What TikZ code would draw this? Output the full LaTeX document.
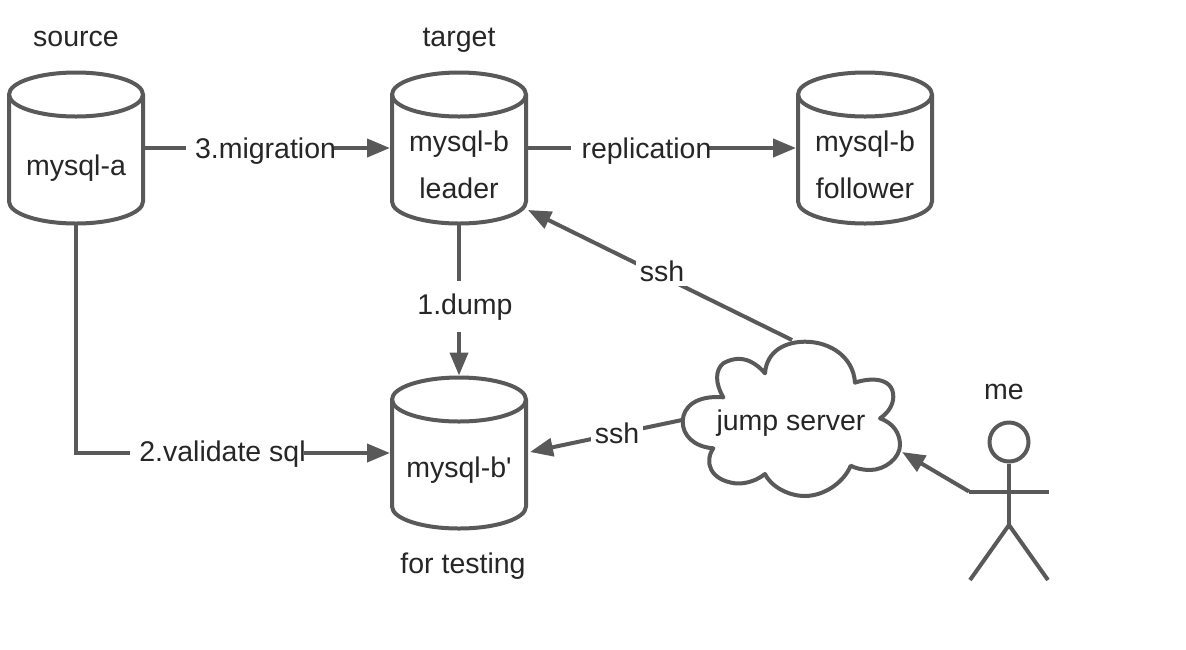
\documentclass[tikz,border=0pt]{standalone}
\usepackage{fontspec}
\setmainfont{Liberation Sans}
\usetikzlibrary{arrows.meta}
\definecolor{linegray}{HTML}{595959}
\definecolor{textgray}{HTML}{262626}
\tikzset{
  x=1pt,y=-1pt,
  shape line/.style={draw=linegray,line width=4pt,line join=round},
  dbbox/.style={minimum width=134pt,minimum height=151pt,inner sep=0pt,outer sep=0pt},
  txt/.style={text=textgray,font=\fontsize{28.5}{28.5}\selectfont,anchor=base,inner sep=0pt},
  conn/.style={draw=linegray,line width=4pt,-{Triangle[length=23pt,width=18pt]},shorten >=2pt},
  lab/.style={txt,fill=white,inner xsep=0pt,inner ysep=6pt},
}
\newcommand{\dbshape}[1]{%
  \path[shape line,fill=white,shift={(#1)}]
    (-67,-53.5) arc[x radius=67,y radius=22,start angle=180,end angle=360]
    -- (67,53.5) arc[x radius=67,y radius=22,start angle=0,end angle=180]
    -- cycle;
  \path[shape line,shift={(#1)}]
    (-67,-53.5) arc[x radius=67,y radius=22,start angle=180,end angle=0];
}
\begin{document}
\begin{tikzpicture}
\useasboundingbox (0,0) rectangle (1186,649);
% database bodies
\node[dbbox] (a) at (76,148) {};
\node[dbbox] (b) at (459,148) {};
\node[dbbox] (f) at (865,148) {};
\node[dbbox] (t) at (459,453) {};
\coordinate (bcorner) at (528,210);
\coordinate (tcorner) at (530,452);
\coordinate (cloudtop) at (792,340);
\coordinate (cloudleft) at (682,420);
\coordinate (cloudright) at (902,452);
\coordinate (hand) at (969,491.5);
% connectors
\draw[conn] (a.east) -- (b.west);
\draw[conn] (b.east) -- (f.west);
\draw[conn] (b.south) -- (t.north);
\draw[conn] (a.south) |- (t.west);
\draw[conn,shorten >=0pt] (cloudtop) -- (bcorner);
\draw[conn,shorten >=0pt] (cloudleft) -- (tcorner);
\draw[conn,shorten >=0pt] (hand) -- (cloudright);
\foreach \n in {a,b,f,t}{\dbshape{\n}}
% cloud
\path[shape line,fill=white]
  (765,373.3) .. controls (766.7,350) and (786.7,341.7) .. (805,341.7)
  .. controls (830,341.7) and (853.3,356.7) .. (855,382.7)
  .. controls (868,378) and (893.3,376) .. (893.3,396.7)
  .. controls (893.3,405) and (888,413) .. (880,418.3)
  .. controls (893,423) and (900,433) .. (900,445)
  .. controls (900,458) and (885,470) .. (870,470)
  .. controls (862,470) and (855,468) .. (850.7,465.7)
  .. controls (843.3,483.3) and (823.3,496) .. (805,496)
  .. controls (786.7,496) and (770,485) .. (765,474)
  .. controls (753.3,483.3) and (740,484) .. (735,483.3)
  .. controls (710,480) and (704,462) .. (713.3,448.3)
  .. controls (693.3,446.7) and (682.7,435) .. (682.7,421.7)
  .. controls (682.7,406.7) and (696.7,395) .. (723.3,397.3)
  .. controls (715,383.3) and (715,370) .. (723.3,363.3)
  .. controls (743.3,352) and (758,365) .. (765,373.3) -- cycle;
% actor
\node[circle,draw=linegray,line width=4pt,minimum size=39pt,inner sep=0pt] (head) at (1009,442) {};
\coordinate (hip) at (1009,525);
\coordinate (armr) at (1049,491.5);
\coordinate (legl) at (970,580);
\coordinate (legr) at (1048,580);
\draw[shape line,line cap=butt] (head.south) -- (hip);
\draw[shape line] (hand) -- (armr);
\draw[shape line] (legl) -- (hip) -- (legr);
% connector labels
\node[lab] (l1) at (260,158) {\hspace*{9pt}3.migration\hspace*{-2pt}};
\node[lab] (l2) at (640,158) {\hspace*{11pt}replication\hspace*{-2pt}};
\node[lab,inner ysep=12pt,inner xsep=2pt] (l3) at (465,314) {1.dump};
\node[lab] (l4) at (217,461) {\hspace*{9pt}2.validate sql\hspace*{-2pt}};
\node[lab,inner xsep=4pt,inner ysep=5pt] (l5) at (662,281) {ssh};
\node[lab,inner xsep=4pt,inner ysep=5pt] (l6) at (617,443) {ssh};
% texts
\node[txt] (s) at (76,46) {source};
\node[txt] (tg) at (459,46) {target};
\node[txt] (ta) at (76,175) {mysql-a};
\node[txt] (tb1) at (459,151) {mysql-b};
\node[txt] (tb2) at (459,198) {leader};
\node[txt] (tf1) at (865,151) {mysql-b};
\node[txt] (tf2) at (865,198) {follower};
\node[txt] (tt) at (459,477) {mysql-b\textquotesingle};
\node[txt] (ft) at (463,573) {for testing};
\node[txt] (me) at (1004,399) {me};
\node[txt] (js) at (791,430) {jump server};
\end{tikzpicture}
\end{document}
